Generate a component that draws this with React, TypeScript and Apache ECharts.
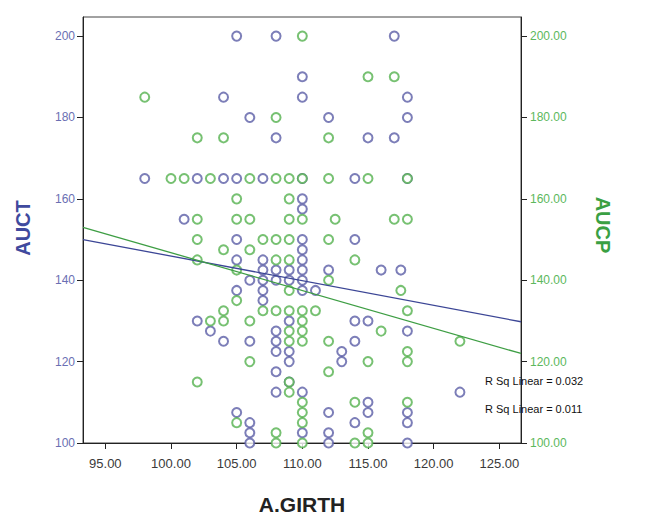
import React, { useEffect, useRef } from "react";
import * as echarts from "echarts";

const xTicks = [95, 100, 105, 110, 115, 120, 125];
const yTicks = [100, 120, 140, 160, 180, 200];

// AUCT (left axis) observations: [A.GIRTH, AUCT]
const auctPoints: [number, number][] = [
  [105, 200], [108, 200], [117, 200],
  [110, 190],
  [104, 185], [110, 185], [118, 185],
  [106, 180], [112, 180], [118, 180],
  [108, 175], [115, 175], [117, 175],
  [98, 165], [102, 165], [104, 165], [105, 165], [107, 165], [110, 165], [114, 165], [118, 165],
  [110, 160], [110, 157.5],
  [101, 155],
  [105, 150], [110, 150], [114, 150],
  [110, 147.5],
  [105, 145], [107, 145], [110, 145],
  [107, 142.5], [108, 142.5], [109, 142.5], [110, 142.5], [112, 142.5], [116, 142.5], [117.5, 142.5],
  [106, 140], [107, 140], [108, 140], [109, 140], [110, 140],
  [105, 137.5], [107, 137.5], [110, 137.5], [111, 137.5],
  [107, 135],
  [102, 130], [109, 130], [114, 130], [115, 130],
  [103, 127.5], [108, 127.5], [118, 127.5],
  [104, 125], [106, 125], [108, 125], [114, 125],
  [108, 122.5], [109, 122.5], [113, 122.5],
  [109, 120], [113, 120],
  [108, 117.5],
  [109, 115],
  [108, 112.5], [110, 112.5], [122, 112.5],
  [115, 110],
  [105, 107.5], [112, 107.5], [115, 107.5], [118, 107.5],
  [106, 105], [114, 105], [118, 105],
  [106, 102.5], [110, 102.5], [112, 102.5],
  [106, 100], [112, 100], [118, 100],
];

// AUCP (right axis) observations: [A.GIRTH, AUCP]
const aucpPoints: [number, number][] = [
  [110, 200],
  [115, 190], [117, 190],
  [98, 185],
  [108, 180],
  [102, 175], [104, 175], [112, 175],
  [100, 165], [101, 165], [103, 165], [106, 165], [108, 165], [109, 165], [110, 165], [112, 165], [115, 165], [118, 165],
  [105, 160], [109, 160],
  [102, 155], [105, 155], [106, 155], [109, 155], [110, 155], [112.5, 155], [117, 155], [118, 155],
  [102, 150], [107, 150], [108, 150], [109, 150], [112, 150],
  [104, 147.5], [106, 147.5],
  [102, 145], [108, 145], [109, 145], [114, 145],
  [105, 142.5],
  [112, 140],
  [109, 137.5], [117.5, 137.5],
  [105, 135],
  [104, 132.5], [107, 132.5], [108, 132.5], [109, 132.5], [110, 132.5], [111, 132.5], [118, 132.5],
  [103, 130], [104, 130], [106, 130], [110, 130],
  [109, 127.5], [110, 127.5], [116, 127.5],
  [109, 125], [110, 125], [112, 125], [122, 125],
  [118, 122.5],
  [106, 120], [115, 120], [118, 120],
  [112, 117.5],
  [102, 115], [109, 115],
  [109, 112.5],
  [110, 110], [114, 110], [118, 110],
  [110, 107.5],
  [105, 105], [110, 105],
  [108, 102.5], [115, 102.5],
  [108, 100], [110, 100], [114, 100], [115, 100],
];

// Linear fit lines (end points across the x range)
const fitX = [93.3, 126.65];
const auctFitY = [150.0, 129.8];
const aucpFitY = [153.0, 122.0];
const rSqLabels = ["R Sq Linear = 0.032", "R Sq Linear = 0.011"];

const BLUE = "#5b5ea6";
const GREEN = "#55b24f";

export default function App() {
  const ref = useRef<HTMLDivElement>(null);
  useEffect(() => {
    if (!ref.current) return;
    const chart = echarts.init(ref.current, undefined, { renderer: "svg" });
    const font = "Liberation Sans, Arial, sans-serif";
    chart.setOption({
      animation: false,
      backgroundColor: "#ffffff",
      textStyle: { fontFamily: font },
      grid: {
        left: 83, right: 124, top: 17, bottom: 75,
        show: true, borderColor: "#444", borderWidth: 1, containLabel: false,
      },
      xAxis: {
        type: "value", min: 93.3, max: 126.65,
        splitLine: { show: false },
        axisLine: { lineStyle: { color: "#222", width: 1 } },
        axisTick: { customValues: xTicks, length: 6, lineStyle: { color: "#222" } },
        axisLabel: {
          customValues: xTicks, color: "#3a3a3a", fontSize: 13, margin: 14,
          formatter: (v: number) => v.toFixed(2),
        },
      },
      yAxis: [
        {
          type: "value", min: 100, max: 204.7, position: "left",
          splitLine: { show: false },
          axisLine: { show: true, lineStyle: { color: "#222" } },
          axisTick: { show: true, customValues: yTicks, length: 6, lineStyle: { color: "#222" } },
          axisLabel: {
            customValues: yTicks, color: "#6a6fb3", fontSize: 12, margin: 8,
            formatter: (v: number) => String(v),
          },
        },
        {
          type: "value", min: 100, max: 204.7, position: "right",
          splitLine: { show: false },
          axisLine: { show: true, lineStyle: { color: "#222" } },
          axisTick: { show: true, customValues: yTicks, length: 6, lineStyle: { color: "#222" } },
          axisLabel: {
            customValues: yTicks, color: "#5cb85c", fontSize: 12, margin: 9,
            formatter: (v: number) => v.toFixed(2),
          },
        },
      ],
      series: [
        {
          type: "scatter", yAxisIndex: 0, data: auctPoints,
          symbol: "emptyCircle", symbolSize: 9,
          itemStyle: { color: BLUE, borderColor: BLUE, borderWidth: 1.6 },
        },
        {
          type: "scatter", yAxisIndex: 1, data: aucpPoints,
          symbol: "emptyCircle", symbolSize: 9,
          itemStyle: { color: GREEN, borderColor: GREEN, borderWidth: 1.6 },
        },
        {
          type: "line", yAxisIndex: 0, showSymbol: false,
          data: fitX.map((x, i) => [x, auctFitY[i]]),
          lineStyle: { color: "#3c4696", width: 1.3 },
        },
        {
          type: "line", yAxisIndex: 1, showSymbol: false,
          data: fitX.map((x, i) => [x, aucpFitY[i]]),
          lineStyle: { color: "#3e9e44", width: 1.3 },
        },
      ],
      graphic: [
        {
          type: "text", x: 23, y: 228, rotation: Math.PI / 2,
          style: { text: "AUCT", fill: "#3f4a9e", font: `bold 20px ${font}`, textAlign: "center", textVerticalAlign: "middle" },
        },
        {
          type: "text", x: 603, y: 225, rotation: -Math.PI / 2,
          style: { text: "AUCP", fill: "#3aa043", font: `bold 20px ${font}`, textAlign: "center", textVerticalAlign: "middle" },
        },
        {
          type: "text", x: 302, y: 504,
          style: { text: "A.GIRTH", fill: "#222", font: `bold 21px ${font}`, textAlign: "center", textVerticalAlign: "middle" },
        },
        ...rSqLabels.map((t, i) => ({
          type: "text", x: 485, y: 381 + i * 28,
          style: { text: t, fill: "#111", font: `11px ${font}`, textAlign: "left", textVerticalAlign: "middle" },
        })),
      ],
    });
    return () => chart.dispose();
  }, []);
  return (
    <div
      ref={ref}
      style={{ position: "fixed", left: 0, top: 0, width: 645, height: 518, background: "#fff" }}
    />
  );
}
